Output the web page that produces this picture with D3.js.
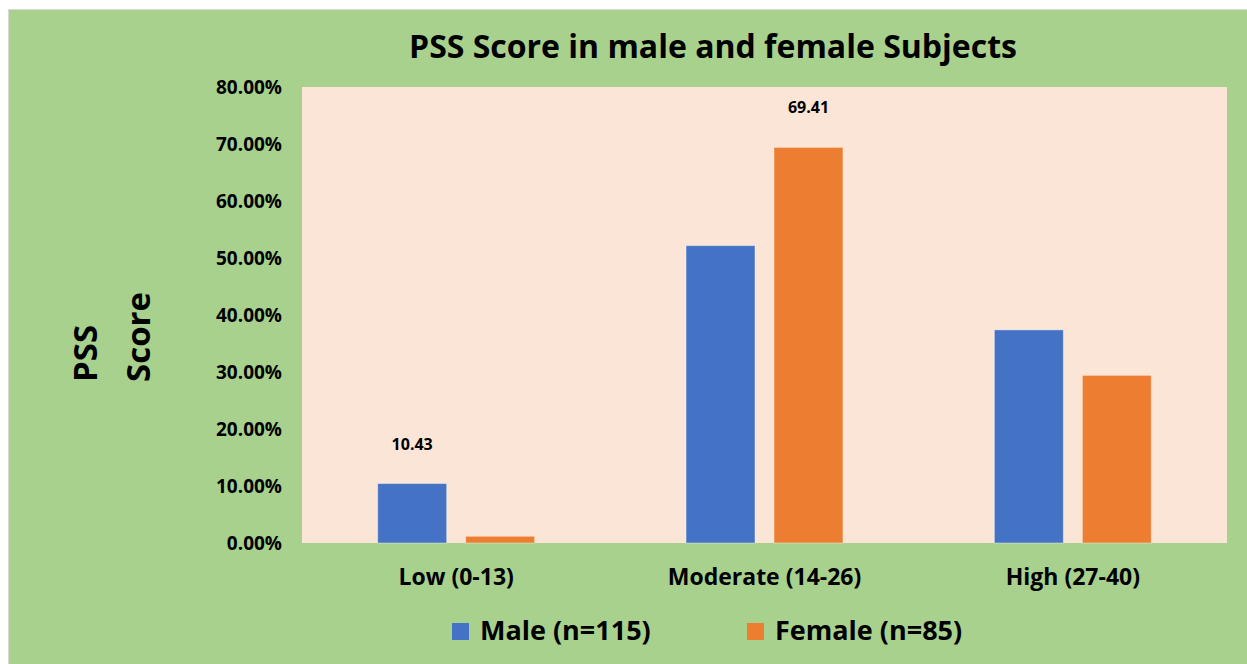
<!DOCTYPE html>
<html>
<head>
<meta charset="utf-8">
<script src="https://cdn.jsdelivr.net/npm/d3@7/dist/d3.min.js"></script>
<style>
  html, body { margin: 0; padding: 0; background: #fff; }
  text { font-family: 'Open Sans', 'Lato', sans-serif; font-weight: bold; fill: #000; }
</style>
</head>
<body>
<script>
// chart data
var categories = ['Low (0-13)', 'Moderate (14-26)', 'High (27-40)'];
var seriesNames = ['Male (n=115)', 'Female (n=85)'];
var maleValues = [10.43, 52.17, 37.39];
var femaleValues = [1.18, 69.41, 29.41];
// only two bars carry a data label in the original
var maleLabels = ['10.43', null, null];
var femaleLabels = [null, '69.41', null];
var yTicks = [0, 10, 20, 30, 40, 50, 60, 70, 80];

var W = 1247, H = 664;
var COLORS = ['#4472C4', '#ED7D31'];
var FONT = "'Open Sans', sans-serif";

var plot = { left: 302, right: 1227, top: 87, bottom: 543 };

var svg = d3.select('body').append('svg')
  .attr('width', W)
  .attr('height', H);

// chart background
svg.append('rect')
  .attr('x', 8.5).attr('y', 9.5)
  .attr('width', W - 8).attr('height', H - 9)
  .attr('fill', '#A9D18E')
  .attr('stroke', '#d9d9d9');

svg.append('rect')
  .attr('x', plot.left).attr('y', plot.top)
  .attr('width', plot.right - plot.left)
  .attr('height', plot.bottom - plot.top)
  .attr('fill', '#FBE5D6');

var x0 = d3.scaleBand()
  .domain(categories)
  .range([plot.left, plot.right])
  .paddingInner(0.491)
  .paddingOuter(0.2455);

var x1 = d3.scaleBand()
  .domain(seriesNames)
  .range([0, x0.bandwidth()])
  .paddingInner(0.216);

var y = d3.scaleLinear()
  .domain([0, 80])
  .range([plot.bottom, plot.top]);

var rows = categories.map(function(c, i) {
  return {
    cat: c,
    vals: [
      { s: seriesNames[0], v: maleValues[i], label: maleLabels[i], color: COLORS[0] },
      { s: seriesNames[1], v: femaleValues[i], label: femaleLabels[i], color: COLORS[1] }
    ]
  };
});

var groups = svg.append('g').selectAll('g.cat')
    .data(rows)
  .enter().append('g')
    .attr('class', 'cat')
    .attr('transform', function(d) { return 'translate(' + x0(d.cat) + ',0)'; });

groups.selectAll('rect')
    .data(function(d) { return d.vals; })
  .enter().append('rect')
    .attr('x', function(d) { return x1(d.s); })
    .attr('y', function(d) { return y(d.v); })
    .attr('width', x1.bandwidth())
    .attr('height', function(d) { return y(0) - y(d.v); })
    .attr('fill', function(d) { return d.color; })
    .attr('stroke', '#fff')
    .attr('stroke-opacity', 0.4)
    .attr('stroke-width', 1);

groups.selectAll('text.lbl')
    .data(function(d) { return d.vals.filter(function(v) { return v.label; }); })
  .enter().append('text')
    .attr('class', 'lbl')
    .attr('x', function(d) { return x1(d.s) + x1.bandwidth() / 2; })
    .attr('y', function(d) { return y(d.v) - 34; })
    .attr('text-anchor', 'middle')
    .style('font-size', '16px')
    .text(function(d) { return d.label; });

// y axis (labels only)
var yAxis = d3.axisLeft(y)
  .tickValues(yTicks)
  .tickSize(0)
  .tickPadding(0)
  .tickFormat(function(d) { return d3.format('.2f')(d) + '%'; });

var gy = svg.append('g')
  .attr('transform', 'translate(282,0)')
  .call(yAxis);
gy.select('.domain').remove();
gy.selectAll('text')
  .attr('fill', '#000')
  .style('font-family', FONT)
  .style('font-weight', 'bold')
  .style('font-size', '19px');

// x axis (labels only)
var xAxis = d3.axisBottom(x0).tickSize(0).tickPadding(0);
var gx = svg.append('g')
  .attr('transform', 'translate(0,' + plot.bottom + ')')
  .call(xAxis);
gx.select('.domain').remove();
gx.selectAll('text')
  .attr('fill', '#000')
  .attr('dy', null)
  .attr('y', 42)
  .style('font-family', FONT)
  .style('font-weight', 'bold')
  .style('font-size', '23px');

// title
svg.append('text')
  .attr('x', 713)
  .attr('y', 58)
  .attr('text-anchor', 'middle')
  .style('font-size', '32px')
  .text('PSS Score in male and female Subjects');

// y axis title, two lines, left aligned when rotated
var yt = svg.append('g').attr('transform', 'translate(97,382) rotate(-90)');
yt.append('text').attr('x', 0).attr('y', 0).style('font-size', '33px').text('PSS');
yt.append('text').attr('x', 0).attr('y', 53).style('font-size', '33px').text('Score');

// legend
var legendX = [452, 747];
var legend = svg.append('g').selectAll('g.leg')
    .data(seriesNames)
  .enter().append('g')
    .attr('class', 'leg')
    .attr('transform', function(d, i) { return 'translate(' + legendX[i] + ',623)'; });
legend.append('rect')
  .attr('width', 17).attr('height', 17)
  .attr('fill', function(d, i) { return COLORS[i]; });
legend.append('text')
  .attr('x', 28)
  .attr('y', 17)
  .style('font-size', '27px')
  .text(function(d) { return d; });
</script>
</body>
</html>
